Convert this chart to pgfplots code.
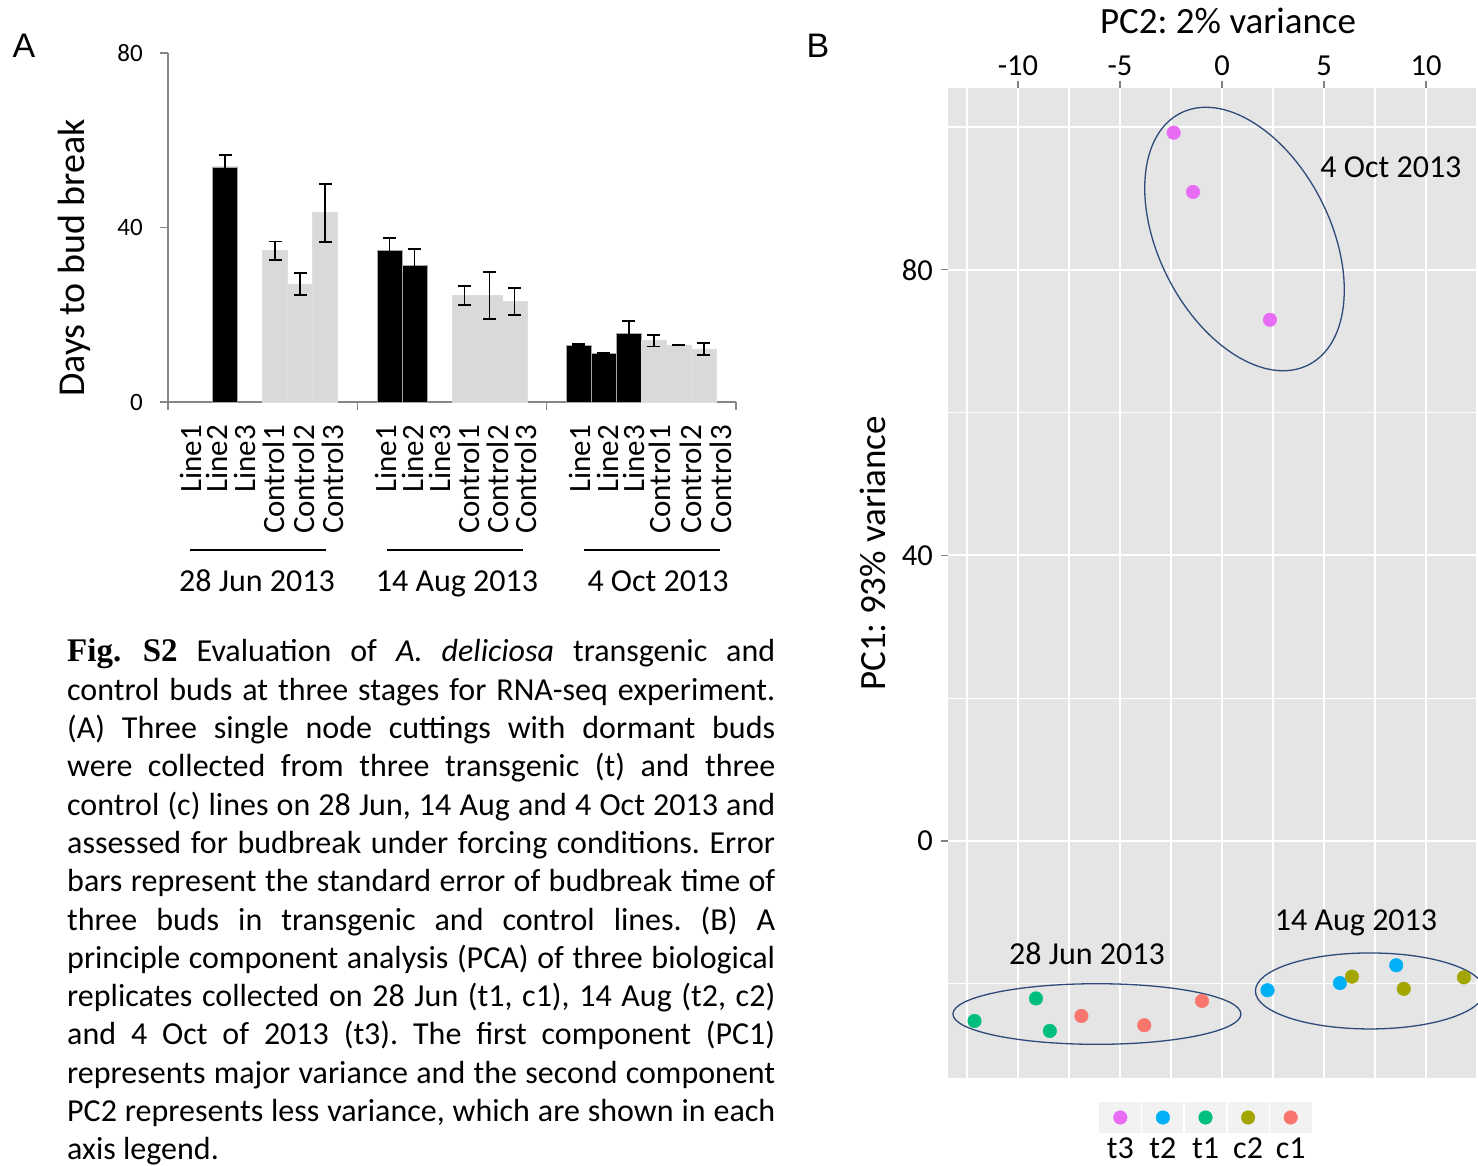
\documentclass[border=0pt]{standalone}
\usepackage{pgfplots}
\usepackage{pgfplotstable}
\pgfplotsset{compat=1.18}
\usepackage{fontspec}
\setmainfont{Carlito}
\newfontfamily\serifbf{Liberation Serif}
\newfontfamily\arialf{Liberation Sans}
\definecolor{bargray}{HTML}{D9D9D9}
\definecolor{axgray}{HTML}{868686}
\definecolor{pbg}{HTML}{E5E5E5}
\definecolor{ct3}{HTML}{E76BF3}
\definecolor{ct2}{HTML}{00B0F6}
\definecolor{ct1}{HTML}{00BF7D}
\definecolor{cc2}{HTML}{A3A500}
\definecolor{cc1}{HTML}{F8766D}
\definecolor{ellc}{HTML}{2E4A7A}
\definecolor{legbg}{HTML}{F2F2F2}

\pgfplotstableread{
x y e
57.17 53.9 2.7
221.5 34.7 2.9
246.5 31.3 3.8
410.83 13.0 0.25
435.83 11.1 0.15
460.83 15.8 2.8
}\blackbars
\pgfplotstableread{
x y e
107.17 34.7 2.1
132.17 27.05 2.5
157.17 43.4 6.65
296.5 24.4 2.1
321.5 24.4 5.4
346.5 23.0 3.05
485.83 14.05 1.34
510.83 13.07 0.1
535.83 12.15 1.3
}\graybars

\newcommand{\fs}[1]{\fontsize{#1}{#1}\selectfont}
\frenchspacing

\begin{document}
\begin{tikzpicture}
% ---------------- Panel A: bar chart ----------------
\begin{axis}[
  at={(168pt,763pt)}, anchor=south west, scale only axis,
  width=568pt, height=349pt,
  xmin=0, xmax=568, ymin=0, ymax=80,
  axis x line*=bottom, axis y line*=left,
  axis line style={axgray, line width=1.3pt},
  clip=false,
  ytick={0,40,80}, yticklabels={0,40,80},
  tick align=outside, major tick length=8pt,
  ytick style={axgray, line width=1.3pt},
  yticklabel style={font=\fs{25}, inner sep=0pt, anchor=east},
  yticklabel shift=17pt,
  xtick={22.8,49,77.1,106.3,135.4,164.5,217.9,244.6,272.3,300.4,329.6,357.7,412,439.8,465.5,492.2,522.8,552.9},
  xticklabels={Line1,Line2,Line3,Control1,Control2,Control3,Line1,Line2,Line3,Control1,Control2,Control3,Line1,Line2,Line3,Control1,Control2,Control3},
  xtick style={draw=none},
  xticklabel style={rotate=90, anchor=east, inner sep=0pt, font=\fs{31}},
  xticklabel shift=15pt,
]
\addplot[ybar, bar width=25, bar shift=0pt, fill=black, draw=gray!70, line width=0.6pt,
  error bars/.cd, y dir=both, y explicit,
  error bar style={black, line width=1.8pt},
  error mark options={rotate=90, mark size=6.5pt, black, line width=1.8pt}]
  table[x=x, y=y, y error=e]{\blackbars};
\addplot[ybar, bar width=25, bar shift=0pt, fill=bargray, draw=bargray!90!white, line width=0.6pt,
  error bars/.cd, y dir=both, y explicit,
  error bar style={black, line width=1.8pt},
  error mark options={rotate=90, mark size=6.5pt, black, line width=1.8pt}]
  table[x=x, y=y, y error=e]{\graybars};
\draw[axgray, line width=1.3pt] (axis cs:0,0) -- ++(0,-8pt);
\draw[axgray, line width=1.3pt] (axis cs:189.333,0) -- ++(0,-8pt);
\draw[axgray, line width=1.3pt] (axis cs:378.667,0) -- ++(0,-8pt);
\draw[axgray, line width=1.3pt] (axis cs:568,0) -- ++(0,-8pt);
\end{axis}
\node[rotate=90, font=\fs{38}] at (74pt,907pt) {Days to bud break};
\draw[line width=2.5pt] (190pt,615pt) -- (326pt,615pt);
\draw[line width=2.5pt] (387pt,615pt) -- (523pt,615pt);
\draw[line width=2.5pt] (584pt,615pt) -- (720pt,615pt);
\node[anchor=base, font=\fs{32}] at (257pt,573pt) {28 Jun 2013};
\node[anchor=base, font=\fs{32}] at (457pt,573pt) {14 Aug 2013};
\node[anchor=base, font=\fs{32}] at (658pt,573pt) {4 Oct 2013};
\node[font=\arialf\fs{34}] at (24pt,1119pt) {A};
\node[font=\arialf\fs{34}] at (818pt,1119pt) {B};

% ---------------- Caption ----------------
\node[anchor=base west, inner sep=0pt] at (67pt,503pt) {\parbox[t]{708pt}{\fontsize{32}{38.3}\selectfont
\makebox[708pt][s]{{\serifbf\bfseries\fontsize{33}{38.3}\selectfont Fig.\ S2} Evaluation of \textit{A. deliciosa} transgenic and}\\
\makebox[708pt][s]{control buds at three stages for RNA-seq experiment.}\\
\makebox[708pt][s]{(A) Three single node cuttings with dormant buds}\\
\makebox[708pt][s]{were collected from three transgenic (t) and three}\\
\makebox[708pt][s]{control (c) lines on 28 Jun, 14 Aug and 4 Oct 2013 and}\\
\makebox[708pt][s]{assessed for budbreak under forcing conditions. Error}\\
\makebox[708pt][s]{bars represent the standard error of budbreak time of}\\
\makebox[708pt][s]{three buds in transgenic and control lines. (B) A}\\
\makebox[708pt][s]{principle component analysis (PCA) of three biological}\\
\makebox[708pt][s]{replicates collected on 28 Jun (t1, c1), 14 Aug (t2, c2)}\\
\makebox[708pt][s]{and 4 Oct of 2013 (t3). The first component (PC1)}\\
\makebox[708pt][s]{represents major variance and the second component}\\
\makebox[708pt][s]{PC2 represents less variance, which are shown in each}\\
axis legend.}};

% ---------------- Panel B: PCA ----------------
\begin{axis}[
  at={(948pt,87pt)}, anchor=south west, scale only axis,
  width=543.3pt, height=990pt,
  xmin=-13.43, xmax=13.2, ymin=-33.19, ymax=105.46,
  axis background/.style={fill=pbg},
  axis x line*=top, axis y line*=left,
  axis line style={draw=none},
  xtick={-10,-5,0,5,10}, xticklabels={-10,-5,0,5,10},
  ytick={0,40,80}, yticklabels={0,40,80},
  minor xtick={-12.5,-7.5,-2.5,2.5,7.5,12.5},
  minor ytick={-20,20,60,100},
  grid=both,
  major grid style={white, line width=2.2pt},
  minor grid style={white, line width=1.1pt},
  tick align=outside, major tick length=7pt, minor tick length=0pt,
  major tick style={gray, line width=1.2pt},
  minor tick style={draw=none},
  ticklabel style={font=\fs{30.5}, inner sep=0pt},
  xticklabel style={anchor=base},
  xticklabel shift=5pt,
  yticklabel style={anchor=east},
  yticklabel shift=8pt,
]
\addplot[only marks, color=ct3, mark=*, mark size=6.8pt]
  coordinates {(-2.37,99.2) (-1.42,90.9) (2.35,73.0)};
\addplot[only marks, color=ct2, mark=*, mark size=6.8pt]
  coordinates {(2.23,-20.9) (5.78,-19.9) (8.54,-17.4)};
\addplot[only marks, color=ct1, mark=*, mark size=6.8pt]
  coordinates {(-12.13,-25.2) (-9.12,-22.05) (-8.44,-26.6)};
\addplot[only marks, color=cc2, mark=*, mark size=6.8pt]
  coordinates {(6.37,-19.0) (8.91,-20.7) (11.86,-19.1)};
\addplot[only marks, color=cc1, mark=*, mark size=6.8pt]
  coordinates {(-6.89,-24.5) (-3.81,-25.8) (-0.98,-22.4)};
\draw[ellc, line width=1.3pt, rotate around={-63:(axis cs:1.103,84.31)}]
  (axis cs:1.103,84.31) ellipse [x radius=141.2pt, y radius=85.8pt];
\draw[ellc, line width=1.3pt] (axis cs:-6.13,-24.23) ellipse [x radius=144pt, y radius=30.3pt];
\draw[ellc, line width=1.3pt] (axis cs:7.25,-21.0) ellipse [x radius=114.5pt, y radius=38pt];
\node[font=\fs{32}] at (axis cs:8.28,94.4) {4 Oct 2013};
\node[font=\fs{32}] at (axis cs:6.57,-11.5) {14 Aug 2013};
\node[font=\fs{32}] at (axis cs:-6.62,-15.8) {28 Jun 2013};
\end{axis}
\node[anchor=base, font=\fs{37}] at (1228pt,1131pt) {PC2: 2\% variance};
\node[rotate=90, font=\fs{37}] at (873pt,611.5pt) {PC1: 93\% variance};

% ---------------- Legend ----------------
\begin{axis}[
  at={(1099pt,32pt)}, anchor=south west, scale only axis,
  width=213pt, height=31pt,
  xmin=-0.5, xmax=4.5, ymin=-0.5, ymax=0.5,
  axis background/.style={fill=legbg},
  axis line style={draw=none},
  xtick={0,1,2,3,4}, xticklabels={t3,t2,t1,c2,c1}, ytick=\empty,
  minor xtick={0.5,1.5,2.5,3.5},
  xminorgrids=true, minor x grid style={white, line width=1.5pt},
  major tick length=0pt, minor tick length=0pt,
  xtick style={draw=none}, minor tick style={draw=none},
  xticklabel style={font=\fs{32}, inner sep=0pt, anchor=base, yshift=-25pt},
]
\addplot[only marks, color=ct3, mark=*, mark size=6.8pt] coordinates {(0,0)};
\addplot[only marks, color=ct2, mark=*, mark size=6.8pt] coordinates {(1,0)};
\addplot[only marks, color=ct1, mark=*, mark size=6.8pt] coordinates {(2,0)};
\addplot[only marks, color=cc2, mark=*, mark size=6.8pt] coordinates {(3,0)};
\addplot[only marks, color=cc1, mark=*, mark size=6.8pt] coordinates {(4,0)};
\end{axis}
\pgfresetboundingbox
\path (0pt,0pt) rectangle (1478pt,1165pt);
\end{tikzpicture}
\end{document}
